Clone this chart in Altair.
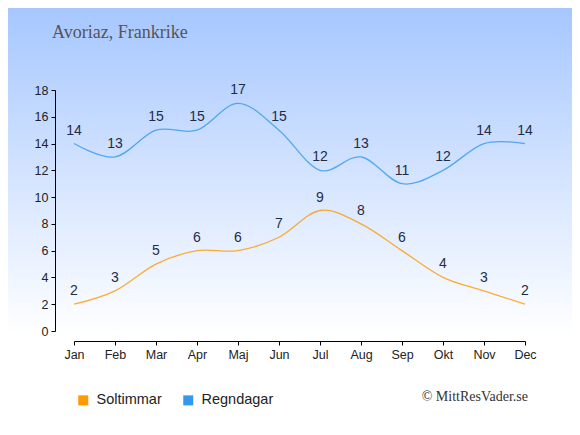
import altair as alt
import pandas as pd

months = ["Jan", "Feb", "Mar", "Apr", "Maj", "Jun", "Jul", "Aug", "Sep", "Okt", "Nov", "Dec"]
soltimmar = [2, 3, 5, 6, 6, 7, 9, 8, 6, 4, 3, 2]
regndagar = [14, 13, 15, 15, 17, 15, 12, 13, 11, 12, 14, 14]
series_names = ["Soltimmar", "Regndagar"]
series_colors = ["#ff9900", "#3399ee"]
title_text = "Avoriaz, Frankrike"
credit_text = "© MittResVader.se"

rows = []
for name, vals in zip(series_names, [soltimmar, regndagar]):
    for m, v in zip(months, vals):
        rows.append({"month": m, "value": v, "series": name})
df = pd.DataFrame(rows)

W, H = 451, 241
PAD = {"left": 66, "top": 82, "right": 47, "bottom": 96}

x_enc = alt.X(
    "month:N",
    sort=months,
    scale=alt.Scale(type="point", padding=0),
    axis=alt.Axis(
        title=None, labelAngle=0, offset=10, tickSize=4, labelPadding=3,
        labelOverlap=False, grid=False, zindex=1,
    ),
)
y_enc = alt.Y(
    "value:Q",
    scale=alt.Scale(domain=[0, 18], nice=False, zero=True),
    axis=alt.Axis(
        title=None, values=list(range(0, 19, 2)), offset=19, tickSize=4, labelPadding=3,
        labelOverlap=False, grid=False, zindex=1,
    ),
)
# legend (fill) scale and line (stroke) scale: same colours, listed in opposite order
fill_scale = alt.Scale(domain=series_names, range=series_colors)
stroke_scale = alt.Scale(domain=series_names[::-1], range=series_colors[::-1])

gradient = alt.LinearGradient(
    gradient="linear", x1=0, y1=0, x2=0, y2=1,
    stops=[
        alt.GradientStop(offset=0, color="#a6c7ff"),
        alt.GradientStop(offset=0.78, color="#ffffff"),
        alt.GradientStop(offset=1, color="#ffffff"),
    ],
)

bg = alt.Chart(alt.Data(values=[{}])).mark_rect(color=gradient, clip=False).encode(
    x=alt.value(-PAD["left"]),
    x2=alt.value(W + PAD["right"]),
    y=alt.value(-PAD["top"]),
    y2=alt.value(H + PAD["bottom"]),
)

base = alt.Chart(df)

lines = base.mark_line(interpolate="cardinal", strokeWidth=1.3, opacity=0.8).encode(
    x=x_enc,
    y=y_enc,
    stroke=alt.Stroke("series:N", scale=stroke_scale, legend=None),
    detail="series:N",
)

legend_pts = base.mark_point(shape="square", filled=True, opacity=0).encode(
    x=x_enc,
    y=y_enc,
    fill=alt.Fill(
        "series:N", scale=fill_scale, sort=series_names,
        legend=alt.Legend(
            title=None, orient="none", legendX=2, legendY=303, direction="horizontal",
            symbolType="square", symbolSize=100, symbolOpacity=1, symbolStrokeWidth=0,
            labelFont="Liberation Sans", labelFontSize=14.5, labelColor="#222222",
            labelOffset=6, columnPadding=19, padding=0, zindex=1,
        ),
    ),
)

labels = base.mark_text(
    baseline="alphabetic", align="center", dy=-9,
    font="Liberation Sans", fontSize=14, color="#1f2c48",
).encode(
    x=x_enc,
    y=y_enc,
    text="value:Q",
)

title = alt.Chart(alt.Data(values=[{"t": title_text}])).mark_text(
    align="left", baseline="alphabetic", font="Liberation Serif", fontSize=18,
    color="#555555", clip=False,
).encode(x=alt.value(-22), y=alt.value(-52), text="t:N")

credit = alt.Chart(alt.Data(values=[{"t": credit_text}])).mark_text(
    align="right", baseline="middle", font="Liberation Serif", fontSize=14,
    color="#333333", clip=False,
).encode(x=alt.value(454), y=alt.value(307), text="t:N")

chart = alt.layer(bg, lines, legend_pts, labels, title, credit).properties(
    width=W, height=H, padding=PAD, autosize=alt.AutoSizeParams(type="none"),
    background="#ffffff",
).configure_view(strokeWidth=0).configure_axis(
    labelFont="Liberation Sans", labelFontSize=12.5, labelColor="#222222",
    domainColor="#000000", tickColor="#000000",
)

chart.save("out.html", embed_options={"renderer": "svg", "actions": False})
